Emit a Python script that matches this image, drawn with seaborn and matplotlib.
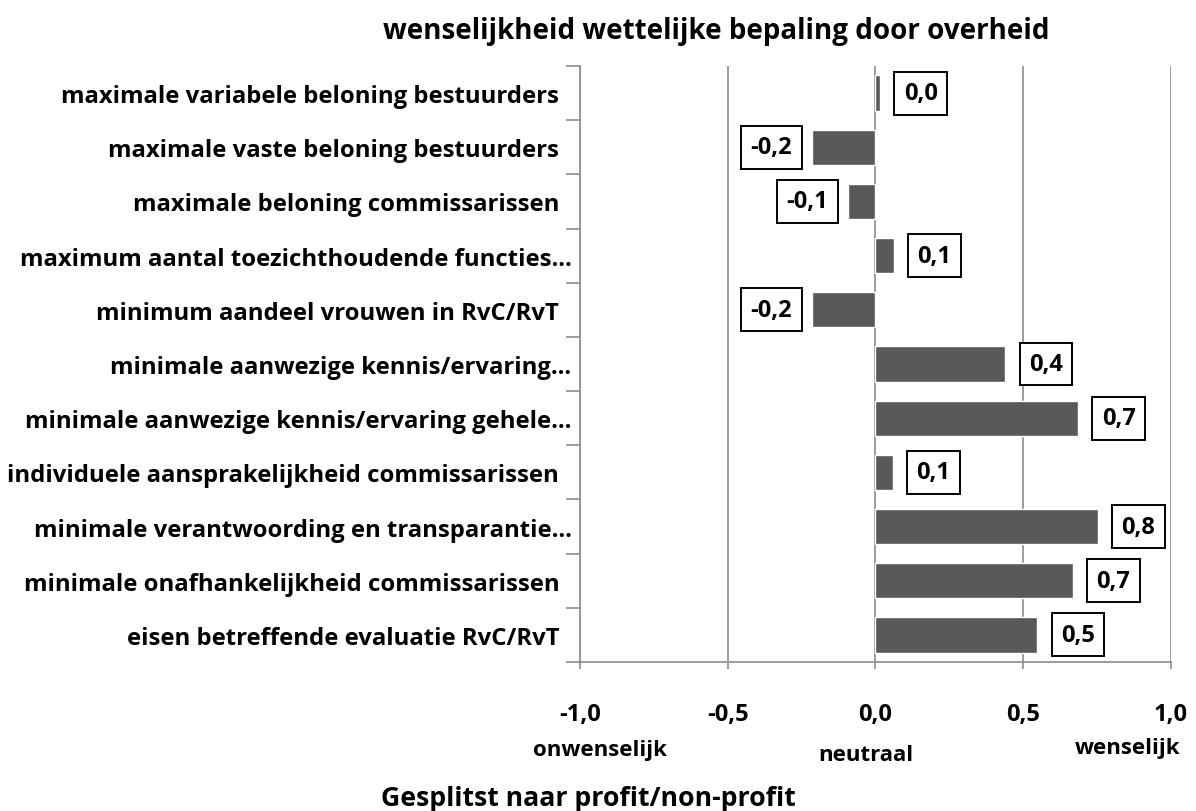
import matplotlib

matplotlib.use("Agg")
import matplotlib.pyplot as plt
import numpy as np
import seaborn as sns
from matplotlib.ticker import FixedLocator, FuncFormatter

categories = [
    "maximale variabele beloning bestuurders  ",
    "maximale vaste beloning bestuurders  ",
    "maximale beloning commissarissen  ",
    "maximum aantal toezichthoudende functies…",
    "minimum aandeel vrouwen in RvC/RvT  ",
    "minimale aanwezige kennis/ervaring…",
    "minimale aanwezige kennis/ervaring gehele…",
    "individuele aansprakelijkheid commissarissen  ",
    "minimale verantwoording en transparantie…",
    "minimale onafhankelijkheid commissarissen  ",
    "eisen betreffende evaluatie RvC/RvT  ",
]
scores = [0.016, -0.216, -0.094, 0.062, -0.216, 0.44, 0.686, 0.059, 0.752, 0.668, 0.548]
x_ticks = [-1.0, -0.5, 0.0, 0.5, 1.0]
scale_words = ["onwenselijk", "neutraal", "wenselijk"]

BAR = "#595959"
GRID = "#8c8c8c"

sns.set_style("white")
plt.rcParams["font.family"] = ["Open Sans", "DejaVu Sans"]
plt.rcParams["font.weight"] = "bold"
plt.rcParams["text.color"] = "black"
plt.rcParams["xtick.labelcolor"] = "black"
plt.rcParams["ytick.labelcolor"] = "black"

fig = plt.figure(figsize=(11.96, 8.12), dpi=100)
ax = fig.add_axes([0.485, 0.1835, 0.494, 0.734])

sns.barplot(x=scores, y=categories, orient="h", color=BAR, width=0.65,
            saturation=1, ax=ax)

ax.set_xlim(-1.0, 1.0)
ax.set_ylim(len(categories) - 0.5, -0.5)
ax.xaxis.set_major_locator(FixedLocator(x_ticks))
ax.xaxis.set_major_formatter(FuncFormatter(lambda v, _: f"{v:.1f}".replace(".", ",")))
ax.grid(axis="x", color=GRID, lw=1.2)
ax.set_axisbelow(True)

for side in ["top", "right"]:
    ax.spines[side].set_visible(False)
for side in ["left", "bottom"]:
    ax.spines[side].set_color(GRID)
    ax.spines[side].set_linewidth(1.2)

# category labels at centres, grey ticks on the boundaries
ax.tick_params(axis="y", which="major", left=True, length=0, pad=6, labelsize=17.2)
ax.set_yticks(np.arange(-0.5, len(categories), 1), minor=True)
ax.tick_params(axis="y", which="minor", left=True, length=10, color=GRID, width=1.2)
ax.tick_params(axis="x", bottom=True, length=5, color=GRID, width=1.2, pad=24, labelsize=17)
for lab in ax.get_yticklabels() + ax.get_xticklabels():
    lab.set_fontweight("bold")

# value labels in boxes
for i, v in enumerate(scores):
    txt = f"{v:.1f}".replace(".", ",")
    if txt == "-0,0":
        txt = "0,0"
    ax.annotate(txt, xy=(v, i), xytext=(17 if v >= 0 else -14, 0),
                textcoords="offset points", ha="left" if v >= 0 else "right",
                va="center", fontsize=17, fontweight="bold",
                bbox=dict(boxstyle="square,pad=0.4", fc="white", ec="black", lw=1.4))

ax.set_ylabel("")
ax.set_xlabel("")

# scale words under the axis
for (xp, yp), s in zip([(600, 751), (866, 756), (1128, 749)], scale_words):
    fig.text(xp / 1196, 1 - yp / 812, s, ha="center", va="center",
             fontsize=16, fontweight="bold")

fig.text(716 / 1196, 1 - 31 / 812, "wenselijkheid wettelijke bepaling door overheid",
         ha="center", va="center", fontsize=20, fontweight="bold")
fig.text(588 / 1196, 1 - 799 / 812, "Gesplitst naar profit/non-profit",
         ha="center", va="center", fontsize=19.2, fontweight="bold")

fig.savefig("out.png", dpi=100)
